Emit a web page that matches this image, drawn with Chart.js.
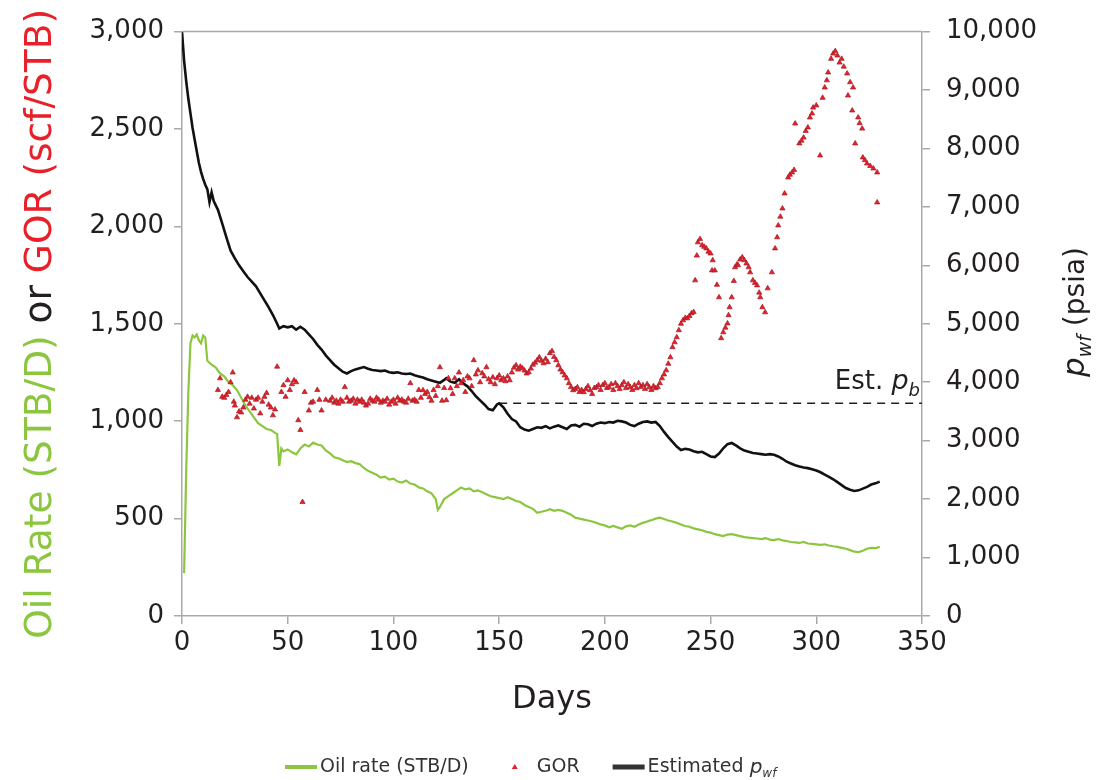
<!DOCTYPE html>
<html>
<head>
<meta charset="utf-8">
<script src="https://cdn.jsdelivr.net/npm/chart.js@4.4.1/dist/chart.umd.min.js"></script>
<style>
  html, body { margin: 0; padding: 0; background: #fff; }
</style>
</head>
<body>
<canvas id="prodChart" width="1099" height="780"></canvas>
<script>
// Oil rate (STB/D), left axis
const oilDays = [1,2,3,4,5,6,7,8,9,10,11,12,14,16,18,20,22,24,26,28,30,32,34,36,38,40,42,44,45,46,47,48,
  50,52,54,56,58,60,62,64,66,68,70,72,74,76,78,80,82,84,86,88,90,92,94,96,98,100,102,104,106,108,110,
  112,114,116,118,120,121,122,124,126,128,130,132,134,136,138,140,142,144,146,148,150,152,154,156,158,
  160,162,164,166,168,170,172,174,176,178,180,182,184,186,188,190,192,194,196,198,200,202,204,206,208,
  210,212,214,216,218,220,222,224,226,228,230,232,234,236,238,240,242,244,246,248,250,252,254,256,258,
  260,262,264,266,268,270,272,274,276,278,280,282,284,286,288,290,292,294,296,298,300,302,304,306,308,
  310,312,314,316,318,320,322,324,326,328,330];
const oilRate = [220,750,1150,1400,1440,1430,1445,1415,1400,1440,1430,1310,1290,1275,1245,1230,1200,1185,1160,1120,1080,1050,1020,990,975,960,955,940,935,770,860,845,
  855,840,830,860,880,870,890,880,875,850,835,815,810,800,790,795,785,780,760,745,735,725,710,715,700,705,690,685,695,680,675,
  660,655,640,630,600,545,560,600,615,630,645,660,650,655,640,645,635,625,615,610,605,600,610,600,590,
  585,570,560,550,530,535,540,548,540,545,540,530,520,505,500,495,490,485,478,470,465,455,462,455,448,
  460,465,458,470,478,485,492,500,505,498,490,485,478,470,462,458,450,445,440,432,428,420,415,410,418,
  420,415,410,405,402,400,398,395,400,392,390,395,388,385,380,378,375,380,372,370,368,365,368,362,358,
  355,350,345,338,330,328,335,345,350,348,355];

// GOR (scf/STB), left axis
const gorDays = [17,18,19,20,21,22,23,24,24.5,25,26,27,28,29,30,31,32,33,34,35,36,37,38,39,40,41,42,43,44,45,47,48,49,50,51,52,53,54,55,56,57,58,60,61,62,64,65,66,68,
  70,71,72,73,74,75,76,77,78,79,80,81,82,83,84,85,86,87,88,89,90,91,92,93,94,95,96,97,98,99,100,101,102,103,104,105,106,107,108,109,110,111,112,113,114,115,116,117,118,119,120,121,122,123,124,125,126,127,128,129,
  130,131,132,133,134,135,136,137,138,139,140,141,142,143,144,145,146,147,148,149,150,151,152,153,154,155,156,157,158,159,160,161,162,163,164,165,166,167,168,169,170,171,172,173,174,175,176,177,178,179,180,181,182,183,184,185,186,187,188,189,190,
  191,192,193,194,195,196,197,198,199,200,201,202,203,204,205,206,207,208,209,210,211,212,213,214,215,216,217,218,219,220,221,222,223,224,225,226,227,228,229,230,231,232,233,234,235,236,237,238,239,240,241,242,242.7,243.5,244,245,246,247,248,249,250,250.7,251,252,253,254,255,256,257,258,258.5,259,260,261,261.6,262.5,263,264,265,266,267,268,268.7,270,271,272,273,273.5,274.5,275.8,277,279,280.5,281.5,282,283,284,285,286.7,287.5,288.6,289.5,
  290,292,293,294,295,296,297,298,298.5,300,301.8,303,304,305,305.6,307,308,309,310,311,312,313,314.6,315,316,317.4,317,318.4,319.8,320.5,321.7,322,323,324,325.5,327,328.8,328.8];
const gorValues = [1160,1220,1125,1120,1135,1150,1200,1250,1100,1080,1020,1050,1045,1070,1110,1125,1090,1120,1065,1110,1120,1040,1100,1125,1145,1085,1070,1030,1060,1280,1150,1185,1125,1210,1160,1190,1210,1200,1005,955,585,1150,1055,1095,1100,1160,1110,1055,1110,
  1105,1120,1095,1105,1090,1110,1100,1175,1120,1100,1105,1115,1090,1110,1100,1110,1095,1080,1090,1115,1105,1100,1120,1110,1095,1105,1100,1115,1085,1100,1110,1090,1120,1105,1110,1100,1095,1115,1195,1105,1110,1100,1160,1120,1159,1140,1150,1123,1105,1160,1130,1180,1277,1105,1170,1108,1220,1169,1140,1220,
  1180,1250,1195,1210,1150,1230,1220,1180,1313,1240,1261,1200,1246,1230,1277,1215,1200,1225,1190,1220,1235,1210,1220,1205,1230,1210,1250,1275,1287,1265,1280,1272,1260,1245,1251,1270,1290,1300,1313,1328,1310,1297,1320,1303,1349,1360,1330,1313,1287,1265,1251,1235,1220,1195,1175,1159,1165,1174,1150,1160,1149,
  1165,1180,1159,1140,1170,1174,1185,1160,1185,1195,1170,1174,1190,1160,1195,1180,1165,1185,1200,1170,1190,1174,1160,1185,1169,1195,1175,1185,1165,1190,1174,1160,1180,1169,1175,1195,1220,1240,1261,1295,1328,1380,1405,1431,1467,1500,1518,1530,1528,1540,1554,1560,1723,1850,1918,1935,1903,1895,1887,1870,1861,1774,1826,1774,1700,1636,1426,1456,1480,1502,1544,1585,1636,1720,1790,1805,1800,1830,1841,1826,1810,1790,1764,1723,1710,1697,1660,1636,1585,1559,1682,1764,1887,1944,2005,2050,2092,2169,2251,2265,2277,2290,
  2528,2426,2440,2456,2490,2508,2559,2580,2610,2621,2364,2660,2713,2750,2790,2860,2887,2900,2877,2841,2860,2820,2785,2672,2740,2713,2595,2426,2559,2530,2502,2354,2340,2323,2310,2297,2277,2123];

// Estimated bottomhole flowing pressure (psia), right axis
const pwfDays = [0,1,2,3,4,5,6,7,8,9,10,11,12,13,14,15,17,19,21,23,25,27,29,31,33,35,37,39,41,43,45,46,48,50,52,54,56,58,
  60,62,64,66,68,70,72,74,76,78,80,82,84,86,88,90,92,94,96,98,100,102,104,106,108,110,112,114,116,118,120,122,124,125,127,129,
  131,133,135,137,139,141,143,145,147,149,150,152,154,156,158,160,162,164,166,168,170,172,174,176,178,180,182,184,186,188,190,
  192,194,196,198,200,202,204,206,208,210,212,214,216,218,220,222,224,226,228,230,232,234,236,238,240,242,244,246,248,250,252,
  254,256,258,260,262,264,266,268,270,272,274,276,278,280,282,284,286,288,290,292,294,296,298,300,302,304,306,308,310,312,314,
  316,318,320,322,324,326,328,330];
const pwfValues = [10000,9500,9150,8850,8600,8350,8150,7950,7750,7600,7480,7380,7300,7080,7250,7100,6950,6720,6480,6250,6120,6000,5900,5800,5720,5640,5520,5400,5280,5150,5000,4920,4960,4940,4960,4900,4950,4900,
  4820,4740,4640,4560,4460,4380,4300,4240,4180,4150,4190,4220,4240,4260,4230,4210,4200,4190,4200,4170,4160,4170,4150,4140,4150,4120,4100,4080,4050,4030,4010,3990,4040,4070,4010,3990,
  4050,3980,3930,3850,3760,3690,3620,3540,3520,3620,3640,3570,3460,3370,3330,3230,3190,3170,3200,3230,3220,3250,3210,3240,3260,3230,3200,3260,3270,3240,3290,
  3280,3250,3290,3310,3300,3320,3310,3340,3330,3310,3270,3250,3290,3320,3330,3310,3320,3250,3150,3060,2980,2900,2840,2860,2850,2820,2800,2810,2770,2730,2720,
  2780,2870,2940,2960,2920,2870,2830,2810,2790,2780,2770,2760,2770,2760,2730,2690,2640,2610,2580,2560,2540,2530,2510,2490,2460,2420,2380,2340,2290,2240,2190,
  2160,2140,2150,2180,2210,2250,2270,2300];

// Estimated bubble-point pressure line (psia)
const pbDays = [150, 350];
const pbPressure = 3640;

// Axis ranges and steps
const dayTicks = { min: 0, max: 350, step: 50 };
const leftTicks = { min: 0, max: 3000, step: 500 };
const rightTicks = { min: 0, max: 10000, step: 1000 };

const GREEN = '#8cc63f';
const RED = '#e8202a';
const INK = '#231f20';
const AXIS = '#a9a9a9';
const FONT = '"DejaVu Sans", sans-serif';

const toPoints = (xs, ys) => xs.map((x, i) => ({ x: x, y: ys[i] }));
const fmt = v => Number(v).toLocaleString('en-US');

// draws the white background, the frame top, the mixed-style titles and the legend
const decorations = {
    id: 'decorations',
    beforeDraw(chart) {
        const ctx = chart.ctx;
        ctx.save();
        ctx.fillStyle = '#fff';
        ctx.fillRect(0, 0, chart.width, chart.height);
        ctx.restore();
    },
    afterDraw(chart) {
        const ctx = chart.ctx;
        const area = chart.chartArea;
        const xs = chart.scales.x;
        const y2 = chart.scales.y2;

        ctx.save();
        // top border of the plot frame
        ctx.strokeStyle = AXIS;
        ctx.lineWidth = 1.5;
        ctx.beginPath();
        ctx.moveTo(area.left, area.top);
        ctx.lineTo(area.right, area.top);
        ctx.stroke();

        ctx.textBaseline = 'alphabetic';
        ctx.textAlign = 'left';

        // left axis title in three colours
        const leftParts = [['Oil Rate (STB/D)', GREEN], [' or ', INK], ['GOR (scf/STB)', RED]];
        ctx.font = '30px ' + FONT;
        let total = leftParts.reduce((s, p) => s + ctx.measureText(p[0]).width, 0);
        const size = 30 * 630 / total;
        ctx.font = size.toFixed(1) + 'px ' + FONT;
        total = leftParts.reduce((s, p) => s + ctx.measureText(p[0]).width, 0);
        ctx.save();
        ctx.translate(51, (area.top + area.bottom) / 2);
        ctx.rotate(-Math.PI / 2);
        let pos = -total / 2;
        leftParts.forEach(p => {
            ctx.fillStyle = p[1];
            ctx.fillText(p[0], pos, 0);
            pos += ctx.measureText(p[0]).width;
        });
        ctx.restore();

        // right axis title: p_wf (psia)
        ctx.save();
        ctx.translate(1084, 312);
        ctx.rotate(-Math.PI / 2);
        ctx.fillStyle = INK;
        const pFont = 'italic 31px ' + FONT;
        const subFont = 'italic 19px ' + FONT;
        const unitFont = '28px ' + FONT;
        ctx.font = pFont; const wp = ctx.measureText('p').width;
        ctx.font = subFont; const ws = ctx.measureText('wf').width;
        ctx.font = unitFont; const wu = ctx.measureText(' (psia)').width;
        let rx = -(wp + ws + wu) / 2;
        ctx.font = pFont; ctx.fillText('p', rx, 0); rx += wp;
        ctx.font = subFont; ctx.fillText('wf', rx, 7); rx += ws;
        ctx.font = unitFont; ctx.fillText(' (psia)', rx, 0);
        ctx.restore();

        // x axis title
        ctx.fillStyle = INK;
        ctx.font = '32px ' + FONT;
        ctx.textAlign = 'center';
        ctx.fillText('Days', (area.left + area.right) / 2, 708);

        // Est. p_b label above the dashed line
        const ly = y2.getPixelForValue(pbPressure) - 14;
        const lxEnd = xs.getPixelForValue(dayTicks.max) - 2;
        ctx.textAlign = 'left';
        ctx.font = '26px ' + FONT;
        const wEst = ctx.measureText('Est. ').width;
        ctx.font = 'italic 27px ' + FONT;
        const wP = ctx.measureText('p').width;
        ctx.font = 'italic 18px ' + FONT;
        const wB = ctx.measureText('b').width;
        let ex = lxEnd - (wEst + wP + wB);
        ctx.font = '26px ' + FONT; ctx.fillText('Est. ', ex, ly); ex += wEst;
        ctx.font = 'italic 27px ' + FONT; ctx.fillText('p', ex, ly); ex += wP;
        ctx.font = 'italic 18px ' + FONT; ctx.fillText('b', ex, ly + 7);

        // legend
        const legY = 767;
        ctx.font = '19px ' + FONT;
        ctx.textBaseline = 'middle';
        let gx = 285;
        ctx.strokeStyle = GREEN;
        ctx.lineWidth = 4;
        ctx.beginPath(); ctx.moveTo(gx, legY); ctx.lineTo(gx + 32, legY); ctx.stroke();
        gx += 35;
        ctx.fillStyle = '#333';
        ctx.fillText('Oil rate (STB/D)', gx, legY);
        gx += ctx.measureText('Oil rate (STB/D)').width + 46;

        ctx.fillStyle = RED;
        ctx.beginPath();
        ctx.moveTo(gx, legY - 3); ctx.lineTo(gx + 3, legY + 2); ctx.lineTo(gx - 3, legY + 2);
        ctx.closePath(); ctx.fill();
        gx += 22;
        ctx.fillStyle = '#333';
        ctx.fillText('GOR', gx, legY);
        gx += ctx.measureText('GOR').width + 33;

        ctx.strokeStyle = '#333';
        ctx.lineWidth = 5;
        ctx.beginPath(); ctx.moveTo(gx, legY); ctx.lineTo(gx + 32, legY); ctx.stroke();
        gx += 35;
        ctx.fillText('Estimated ', gx, legY);
        gx += ctx.measureText('Estimated ').width;
        ctx.font = 'italic 20px ' + FONT;
        ctx.fillText('p', gx, legY + 1);
        gx += ctx.measureText('p').width;
        ctx.font = 'italic 12px ' + FONT;
        ctx.fillText('wf', gx, legY + 7);
        ctx.restore();
    }
};

const axisGrid = { drawOnChartArea: false, drawTicks: true, tickLength: 8, color: AXIS, lineWidth: 1.5 };
const axisBorder = { color: AXIS, width: 1.5 };
const tickFont = { family: FONT, size: 26 };

const chart = new Chart(document.getElementById('prodChart').getContext('2d'), {
    type: 'line',
    data: {
        datasets: [
            {
                label: 'Oil rate (STB/D)',
                data: toPoints(oilDays, oilRate),
                yAxisID: 'y',
                borderColor: GREEN,
                borderWidth: 2.2,
                pointRadius: 0,
                tension: 0,
                order: 3,
            },
            {
                label: 'GOR',
                type: 'scatter',
                data: toPoints(gorDays, gorValues),
                yAxisID: 'y',
                pointStyle: 'triangle',
                pointRadius: 3,
                backgroundColor: RED,
                borderColor: '#a01c26',
                borderWidth: 0.7,
                order: 1,
            },
            {
                label: 'Estimated pwf',
                data: toPoints(pwfDays, pwfValues),
                yAxisID: 'y2',
                borderColor: '#111',
                borderWidth: 2.6,
                pointRadius: 0,
                tension: 0,
                order: 2,
            },
            {
                label: 'Est. pb',
                data: pbDays.map(d => ({ x: d, y: pbPressure })),
                yAxisID: 'y2',
                borderColor: '#222',
                borderWidth: 1.6,
                borderDash: [8, 6],
                pointRadius: 0,
                order: 4,
            },
        ],
    },
    options: {
        responsive: false,
        animation: false,
        layout: { padding: { top: 30, left: 0, right: 0, bottom: 0 } },
        plugins: {
            legend: { display: false },
            tooltip: { enabled: false },
        },
        scales: {
            x: {
                type: 'linear',
                min: dayTicks.min,
                max: dayTicks.max,
                ticks: { stepSize: dayTicks.step, color: INK, font: tickFont, padding: 4, maxRotation: 0 },
                grid: axisGrid,
                border: axisBorder,
                afterFit: scale => { scale.height = 164; },
            },
            y: {
                position: 'left',
                min: leftTicks.min,
                max: leftTicks.max,
                ticks: { stepSize: leftTicks.step, color: INK, font: tickFont, padding: 10, callback: fmt },
                grid: axisGrid,
                border: axisBorder,
                afterFit: scale => { scale.width = 182; },
            },
            y2: {
                position: 'right',
                min: rightTicks.min,
                max: rightTicks.max,
                ticks: { stepSize: rightTicks.step, color: INK, font: tickFont, padding: 16, callback: fmt },
                grid: axisGrid,
                border: axisBorder,
                afterFit: scale => { scale.width = 177; },
            },
        },
    },
    plugins: [decorations],
});
</script>
</body>
</html>
